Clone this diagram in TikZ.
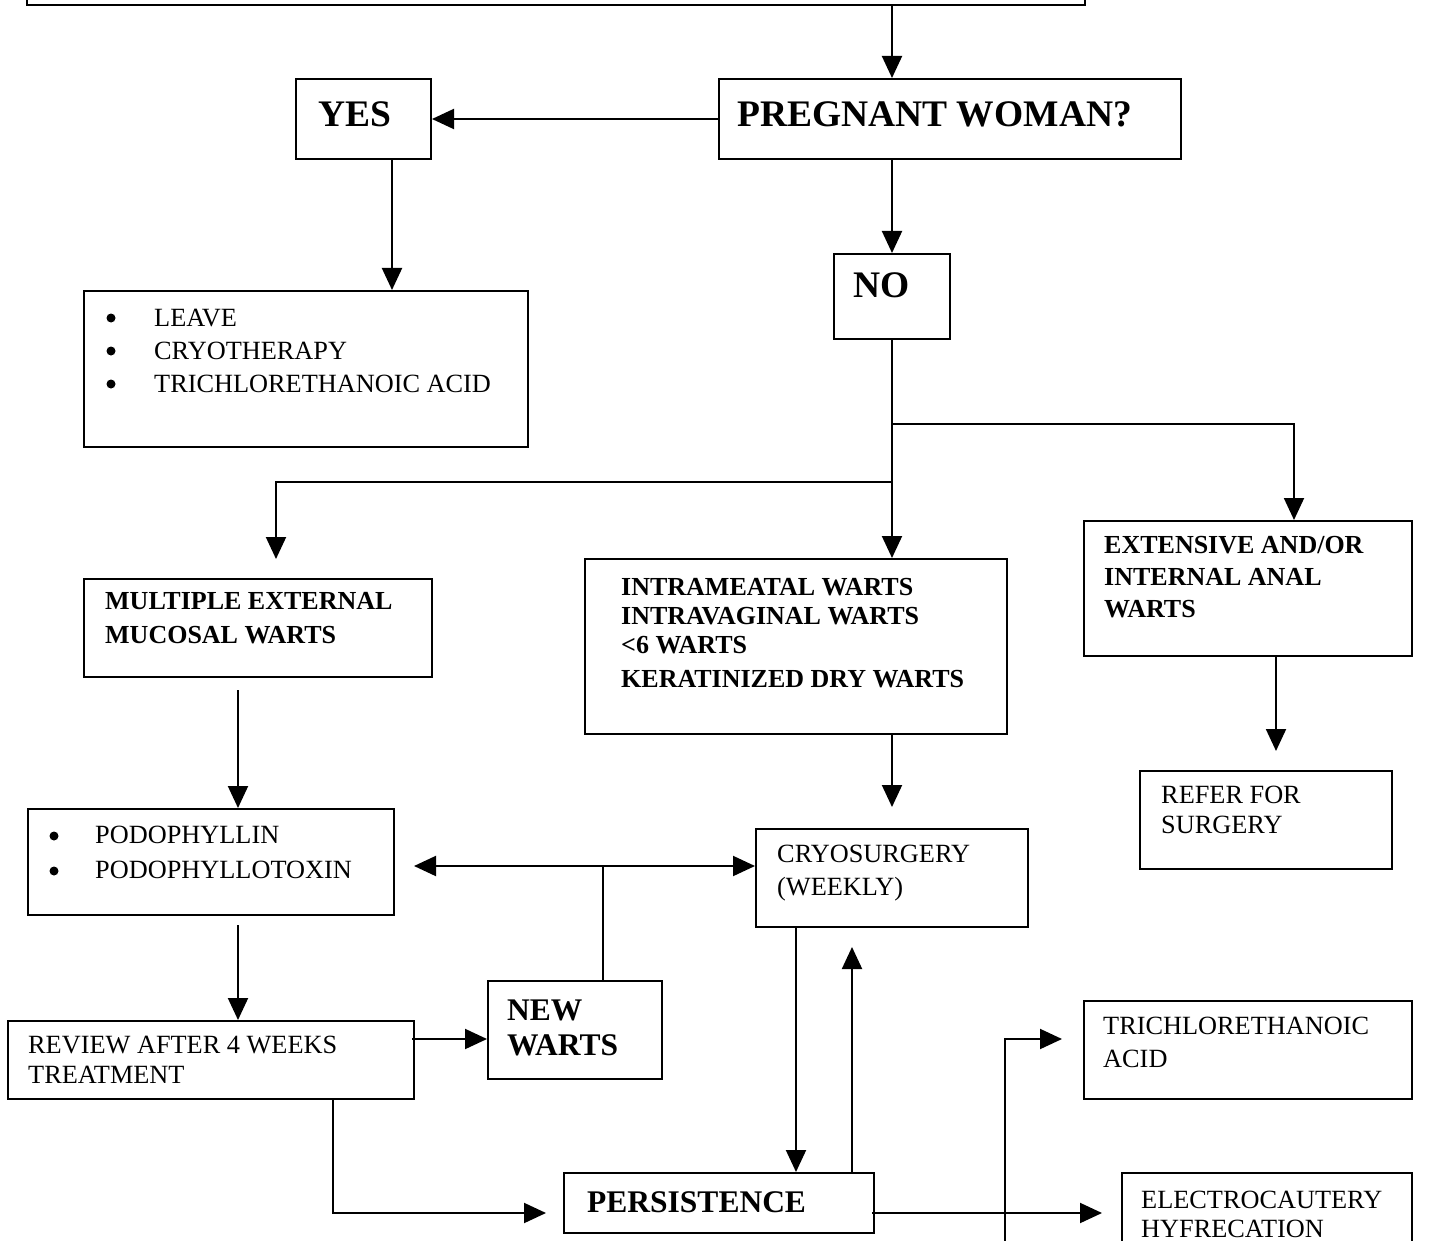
\documentclass[tikz,border=0pt]{standalone}
\usepackage{fontspec}
\setmainfont{Liberation Serif}
\usetikzlibrary{arrows.meta,calc}
\begin{document}
\begin{tikzpicture}[x=1pt,y=1pt,
  box/.style={draw, line width=2pt, inner sep=0pt, anchor=north west},
  link/.style={line width=2pt},
  arr/.style={link, -{Triangle[length=22pt,width=20pt]}},
  dot/.style={circle, fill, inner sep=0pt, minimum size=9pt},
  small/.style={inner sep=0pt, anchor=base west, font=\fontsize{26.3}{30}\selectfont},
  smallb/.style={inner sep=0pt, anchor=base west, font=\fontsize{26}{30}\selectfont\bfseries},
  mid/.style={inner sep=0pt, anchor=base west, font=\fontsize{31.5}{36}\selectfont\bfseries},
  big/.style={inner sep=0pt, anchor=base west, font=\fontsize{37.5}{42}\selectfont\bfseries},
]
\useasboundingbox (0,0) rectangle (1453,-1241);
\clip (0,0) rectangle (1453,-1241);

% ---------- boxes ----------
\node[box, minimum width=1058pt, minimum height=44pt] (top) at (26,40) {};
\node[box, minimum width=462pt, minimum height=80pt] (preg) at (718,-78) {};
\node[box, minimum width=135pt, minimum height=80pt] (yes) at (295,-78) {};
\node[box, minimum width=116pt, minimum height=85pt] (no) at (833,-253) {};
\node[box, minimum width=444pt, minimum height=156pt] (leave) at (83,-290) {};
\node[box, minimum width=348pt, minimum height=98pt] (multi) at (83,-578) {};
\node[box, minimum width=422pt, minimum height=175pt] (intra) at (584,-558) {};
\node[box, minimum width=328pt, minimum height=135pt] (ext) at (1083,-520) {};
\node[box, minimum width=252pt, minimum height=98pt] (refer) at (1139,-770) {};
\node[box, minimum width=366pt, minimum height=106pt] (podo) at (27,-808) {};
\node[box, minimum width=272pt, minimum height=98pt] (cryo) at (755,-828) {};
\node[box, minimum width=406pt, minimum height=78pt] (review) at (7,-1020) {};
\node[box, minimum width=174pt, minimum height=98pt] (neww) at (487,-980) {};
\node[box, minimum width=328pt, minimum height=98pt] (tca) at (1083,-1000) {};
\node[box, minimum width=310pt, minimum height=60pt] (persist) at (563,-1172) {};
\node[box, minimum width=290pt, minimum height=100pt] (electro) at (1121,-1172) {};

% ---------- texts ----------
\node[big] (tPreg) at (737,-127) {PREGNANT WOMAN?};
\node[big] (tYes) at (318,-127) {YES};
\node[big] (tNo) at (853,-298) {NO};

\node[dot] (bL1) at (111,-318) {};
\node[dot] (bL2) at (111,-351) {};
\node[dot] (bL3) at (111,-384) {};
\node[small] (tL1) at (154,-326) {LEAVE};
\node[small] (tL2) at (154,-359) {CRYOTHERAPY};
\node[small] (tL3) at (154,-392) {TRICHLORETHANOIC ACID};

\node[smallb] (tM1) at (105,-609) {MULTIPLE EXTERNAL};
\node[smallb] (tM2) at (105,-643) {MUCOSAL WARTS};

\node[smallb] (tI1) at (621,-595) {INTRAMEATAL WARTS};
\node[smallb] (tI2) at (621,-624) {INTRAVAGINAL WARTS};
\node[smallb] (tI3) at (621,-653) {<6 WARTS};
\node[smallb] (tI4) at (621,-687) {KERATINIZED DRY WARTS};

\node[smallb] (tE1) at (1104,-553) {EXTENSIVE AND/OR};
\node[smallb] (tE2) at (1104,-585) {INTERNAL ANAL};
\node[smallb] (tE3) at (1104,-617) {WARTS};

\node[small] (tR1) at (1161,-803) {REFER FOR};
\node[small] (tR2) at (1161,-833) {SURGERY};

\node[dot] (bP1) at (54,-836) {};
\node[dot] (bP2) at (54,-871) {};
\node[small] (tP1) at (95,-843) {PODOPHYLLIN};
\node[small] (tP2) at (95,-878) {PODOPHYLLOTOXIN};

\node[small] (tC1) at (777,-862) {CRYOSURGERY};
\node[small] (tC2) at (777,-895) {(WEEKLY)};

\node[small] (tV1) at (28,-1053) {REVIEW AFTER 4 WEEKS};
\node[small] (tV2) at (28,-1083) {TREATMENT};

\node[mid] (tN1) at (507,-1020) {NEW};
\node[mid] (tN2) at (507,-1055) {WARTS};

\node[mid] (tPe) at (587,-1212) {PERSISTENCE};

\node[small] (tT1) at (1103,-1034) {TRICHLORETHANOIC};
\node[small] (tT2) at (1103,-1067) {ACID};

\node[small] (tX1) at (1141,-1208) {ELECTROCAUTERY};
\node[small] (tX2) at (1141,-1237) {HYFRECATION};

% ---------- connectors ----------
\draw[arr] (top.south -| no.center) -- (no.center |- preg.north);
\draw[arr] (preg.west) -- (preg.west -| yes.east);
\draw[arr] ([xshift=28.5pt]yes.south) -- ([xshift=28.5pt]yes.south |- leave.north);
\draw[arr] (no.center |- preg.south) -- (no.north);

% split below NO
\coordinate (splitR) at (891,-424);
\coordinate (splitL) at (891,-482);
\draw[arr] (no.south) -- (no.south |- intra.north);
\draw[arr] (splitR) -| ([xshift=46pt]ext.north);
\draw[arr, shorten >=19pt] (splitL) -| ([xshift=18pt]multi.north);

\draw[arr, shorten >=21pt] (no.center |- intra.south) -- (no.center |- cryo.north);
\draw[arr, shorten >=19pt] ([xshift=28pt]ext.south) -- ([xshift=28pt]ext.south |- refer.north);

\draw[arr, shorten <=12pt] ([xshift=27pt]podo.north |- multi.south) -- ([xshift=27pt]podo.north);
\draw[arr, shorten <=9pt] ([xshift=27pt]podo.south) -- ([xshift=27pt]podo.south |- review.north);

\draw[arr] ([yshift=21pt,xshift=-3pt]review.east) -- ([yshift=21pt]review.east -| neww.west);

% new warts back to both treatments
\coordinate (nwj) at (603,-866);
\draw[link] (neww.north -| nwj) -- (nwj);
\draw[arr, shorten >=19pt] (nwj) -- (nwj -| podo.east);
\draw[arr] (nwj) -- (nwj -| cryo.west);

% cryosurgery <-> persistence
\draw[arr] ([xshift=-96pt]cryo.south) -- ([xshift=-96pt]cryo.south |- persist.north);
\draw[arr, shorten >=19pt] ([xshift=-40pt]cryo.south |- persist.north) -- ([xshift=-40pt]cryo.south);

% review to persistence
\draw[arr, shorten >=17pt] ([xshift=122pt]review.south) |- ([yshift=-10pt]persist.west);

% persistence onwards
\draw[arr, shorten >=19pt] ([yshift=-10pt,xshift=-3pt]persist.east) -- ([yshift=-10pt]persist.east -| electro.west);
\coordinate (cbot) at (1005,-1260);
\draw[arr, shorten >=21pt] (cbot) |- ([yshift=11pt]tca.west);
\end{tikzpicture}
\end{document}
